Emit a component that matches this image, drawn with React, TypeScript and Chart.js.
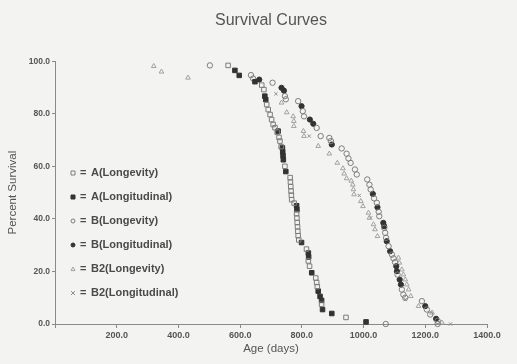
import React, { useEffect, useRef } from "react";
import { Chart, registerables } from "chart.js";

Chart.register(...registerables);

const TITLE = "Survival Curves";
const X_TITLE = "Age (days)";
const Y_TITLE = "Percent Survival";
const X_MIN = 0;
const X_MAX = 1400;
const X_STEP = 200;
const Y_MIN = 0;
const Y_MAX = 100;
const Y_STEP = 20;

const SERIES_LABELS = [
  "A(Longevity)",
  "A(Longitudinal)",
  "B(Longevity)",
  "B(Longitudinal)",
  "B2(Longevity)",
  "B2(Longitudinal)",
];

const A_LONGEVITY_X = [561, 670, 677, 686, 691, 697, 702, 707, 713, 720, 726, 729, 733, 745, 762, 763, 764, 765, 766, 767, 775, 783, 784, 785, 786, 787, 788, 790, 815, 821, 825, 845, 848, 850, 864, 943];
const A_LONGEVITY_Y = [98.4, 90.9, 89.2, 83.5, 81.6, 79.7, 77.8, 75.9, 74.7, 73.0, 71.0, 69.6, 67.5, 60.0, 55.7, 54.0, 52.3, 50.6, 49.0, 47.3, 46.0, 42.0, 40.3, 38.6, 37.0, 35.3, 33.6, 32.0, 28.5, 24.0, 22.0, 17.5, 15.8, 14.2, 7.5, 2.5];

const A_LONGITUDINAL_X = [583, 597, 648, 680, 683, 723, 737, 738, 739, 740, 748, 783, 784, 799, 821, 822, 832, 853, 859, 864, 867, 897, 1008];
const A_LONGITUDINAL_Y = [96.5, 94.6, 92.2, 86.7, 85.4, 73.4, 67.0, 65.5, 64.0, 62.5, 58.0, 45.0, 43.5, 31.0, 27.0, 25.5, 19.5, 12.5, 10.5, 9.0, 5.5, 4.0, 0.8];

const B_LONGEVITY_X = [502, 635, 642, 705, 745, 748, 788, 803, 807, 848, 861, 889, 894, 929, 945, 951, 958, 972, 978, 1012, 1019, 1023, 1034, 1043, 1049, 1051, 1067, 1070, 1073, 1081, 1092, 1097, 1102, 1110, 1124, 1129, 1135, 1189, 1205, 1216, 1240, 1072, 1240];
const B_LONGEVITY_Y = [98.4, 94.7, 93.4, 91.8, 86.7, 85.5, 84.8, 81.0, 79.0, 74.6, 71.5, 70.8, 69.6, 66.8, 64.8, 63.0, 61.3, 58.8, 56.9, 55.0, 53.0, 51.2, 47.8, 46.1, 42.7, 41.0, 36.6, 34.7, 32.8, 29.6, 26.4, 25.0, 23.5, 18.8, 13.1, 11.2, 10.0, 8.7, 5.5, 3.6, 1.2, 0, 0];

const B_LONGITUDINAL_X = [662, 734, 742, 799, 826, 837, 897, 1030, 1045, 1064, 1067, 1075, 1086, 1106, 1108, 1117, 1121, 1200, 1235];
const B_LONGITUDINAL_Y = [93.0, 89.9, 88.8, 82.9, 77.8, 76.2, 68.3, 49.5, 44.4, 38.5, 37.2, 31.5, 27.7, 22.0, 20.1, 16.9, 15.0, 6.8, 2.0];

const B2_LONGEVITY_X = [320, 345, 431, 734, 751, 772, 774, 774, 805, 807, 853, 889, 915, 933, 937, 945, 960, 965, 967, 969, 991, 998, 1016, 1019, 1032, 1037, 1045, 1113, 1116, 1124, 1129, 1135, 1140, 1146, 1153, 1178, 1222, 1254];
const B2_LONGEVITY_Y = [98.1, 96.0, 93.7, 84.2, 80.5, 79.0, 77.2, 75.3, 73.4, 71.5, 67.7, 64.8, 61.3, 59.2, 57.2, 55.4, 54.5, 53.0, 51.2, 49.3, 46.7, 44.8, 42.3, 40.4, 37.9, 36.0, 33.4, 25.2, 23.3, 20.7, 18.8, 16.9, 15.0, 13.1, 10.6, 6.8, 4.3, 0.5];

const B2_LONGITUDINAL_X = [716, 824, 986, 1023, 1135, 1282];
const B2_LONGITUDINAL_Y = [87.6, 71.5, 48.9, 40.4, 9.3, 0];

const FONT = "'Liberation Sans', Arial, Helvetica, sans-serif";

type Style = { shape: string; filled: boolean; color: string; radius: number };
const STYLES: Style[] = [
  { shape: "rect", filled: false, color: "#7c7c7c", radius: 3.2 },
  { shape: "rect", filled: true, color: "#333333", radius: 3.2 },
  { shape: "circle", filled: false, color: "#7c7c7c", radius: 2.7 },
  { shape: "circle", filled: true, color: "#333333", radius: 2.6 },
  { shape: "triangle", filled: false, color: "#a2a2a2", radius: 2.7 },
  { shape: "crossRot", filled: false, color: "#8e8e8e", radius: 2.3 },
];

function toPoints(xs: number[], ys: number[]) {
  return xs.map((x, i) => ({ x, y: ys[i] }));
}

function drawMarker(ctx: CanvasRenderingContext2D, s: Style, x: number, y: number, r: number) {
  ctx.save();
  ctx.strokeStyle = s.color;
  ctx.fillStyle = s.color;
  ctx.lineWidth = 1;
  ctx.beginPath();
  if (s.shape === "rect") {
    ctx.rect(x - r, y - r, 2 * r, 2 * r);
  } else if (s.shape === "circle") {
    ctx.arc(x, y, r, 0, Math.PI * 2);
  } else if (s.shape === "triangle") {
    ctx.moveTo(x, y - r);
    ctx.lineTo(x + r, y + r * 0.8);
    ctx.lineTo(x - r, y + r * 0.8);
    ctx.closePath();
  } else {
    ctx.moveTo(x - r, y - r);
    ctx.lineTo(x + r, y + r);
    ctx.moveTo(x + r, y - r);
    ctx.lineTo(x - r, y + r);
  }
  if (s.filled) ctx.fill();
  ctx.stroke();
  ctx.restore();
}

export default function App() {
  const ref = useRef<HTMLCanvasElement>(null);

  useEffect(() => {
    if (!ref.current) return;
    const seriesData = [
      toPoints(A_LONGEVITY_X, A_LONGEVITY_Y),
      toPoints(A_LONGITUDINAL_X, A_LONGITUDINAL_Y),
      toPoints(B_LONGEVITY_X, B_LONGEVITY_Y),
      toPoints(B_LONGITUDINAL_X, B_LONGITUDINAL_Y),
      toPoints(B2_LONGEVITY_X, B2_LONGEVITY_Y),
      toPoints(B2_LONGITUDINAL_X, B2_LONGITUDINAL_Y),
    ];

    const insideLegend = {
      id: "insideLegend",
      afterDraw(chart: any) {
        const ctx: CanvasRenderingContext2D = chart.ctx;
        const left = chart.chartArea.left;
        const top0 = 173;
        const gap = 24;
        ctx.save();
        ctx.font = `bold 11px ${FONT}`;
        ctx.textBaseline = "middle";
        SERIES_LABELS.forEach((label, i) => {
          const y = top0 + i * gap;
          drawMarker(ctx, STYLES[i], left + 18, y, 2);
          ctx.fillStyle = "#4a4a4a";
          ctx.fillText("=", left + 25, y);
          ctx.fillText(label, left + 36, y);
        });
        ctx.restore();
      },
    };

    const chart = new Chart(ref.current, {
      type: "scatter",
      data: {
        datasets: seriesData.map((d, i) => ({
          label: SERIES_LABELS[i],
          data: d,
          pointStyle: STYLES[i].shape as any,
          pointRadius: STYLES[i].radius,
          borderColor: STYLES[i].color,
          backgroundColor: STYLES[i].filled ? STYLES[i].color : "rgba(0,0,0,0)",
          borderWidth: 1,
          clip: false as any,
        })),
      },
      options: {
        responsive: false,
        animation: false,
        devicePixelRatio: 1,
        layout: { padding: { left: 6, right: 30, top: 0, bottom: 6 } },
        plugins: {
          legend: { display: false },
          tooltip: { enabled: false },
          title: {
            display: true,
            fullSize: false,
            text: TITLE,
            color: "#555",
            font: { family: FONT, size: 16, weight: "normal" },
            padding: { top: 11, bottom: 31 },
          },
        },
        scales: {
          x: {
            type: "linear",
            min: X_MIN,
            max: X_MAX,
            afterFit(scale: any) {
              scale.height = 34;
            },
            ticks: {
              stepSize: X_STEP,
              color: "#555",
              font: { family: FONT, size: 9, weight: "bold" },
              padding: 2,
              maxRotation: 0,
              callback: (v: any) => (Number(v) === 0 ? "" : Number(v).toFixed(1)),
            },
            grid: { drawOnChartArea: false, drawTicks: true, tickLength: 4, color: "#8a8a8a" },
            border: { color: "#8a8a8a", width: 1 },
            title: {
              display: true,
              text: X_TITLE,
              color: "#555",
              font: { family: FONT, size: 11.5, weight: "normal" },
              padding: { top: 0, bottom: 2 },
            },
          },
          y: {
            type: "linear",
            min: Y_MIN,
            max: Y_MAX,
            afterFit(scale: any) {
              scale.width = 49;
            },
            ticks: {
              stepSize: Y_STEP,
              color: "#555",
              font: { family: FONT, size: 8.5, weight: "bold" },
              padding: 2,
              callback: (v: any) => Number(v).toFixed(1),
            },
            grid: { drawOnChartArea: false, drawTicks: true, tickLength: 3, color: "#8a8a8a" },
            border: { color: "#8a8a8a", width: 1 },
            title: {
              display: true,
              text: Y_TITLE,
              color: "#555",
              font: { family: FONT, size: 11.5, weight: "normal" },
              padding: { top: 0, bottom: 0 },
            },
          },
        },
      },
      plugins: [insideLegend],
    });
    return () => chart.destroy();
  }, []);

  return (
    <div
      style={{
        position: "absolute",
        left: 0,
        top: 0,
        width: 517,
        height: 364,
        background: "#f3f3f1",
      }}
    >
      <canvas ref={ref} width={517} height={364} />
    </div>
  );
}
